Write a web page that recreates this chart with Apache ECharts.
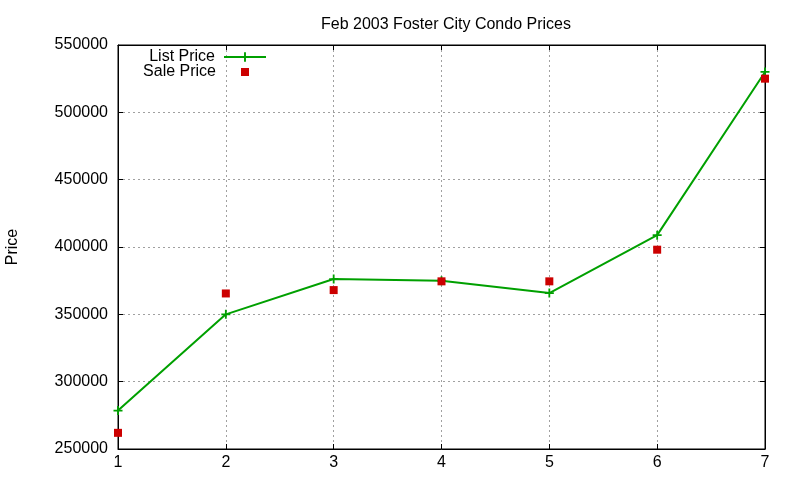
<!DOCTYPE html>
<html>
<head>
<meta charset="utf-8">
<script src="https://cdn.jsdelivr.net/npm/echarts@6/dist/echarts.min.js"></script>
<style>html,body{margin:0;padding:0;background:#fff}#c{width:800px;height:480px}</style>
</head>
<body>
<div id="c"></div>
<script>
const titleText = 'Feb 2003 Foster City Condo Prices';
const xValues = [1, 2, 3, 4, 5, 6, 7];
const listPrice = [278500, 350000, 376200, 375000, 365800, 408800, 530000];
const salePrice = [262000, 365500, 368000, 374500, 374500, 398000, 525000];
const yTicks = { min: 250000, max: 550000, step: 50000 };

const font = 'Liberation Sans, Arial, sans-serif';
const plus = 'path://M4,0 H6 V4 H10 V6 H6 V10 H4 V6 H0 V4 H4 Z';
const green = '#00a000';
const red = '#cc0000';
const gridLine = { show: true, lineStyle: { color: '#a0a0a0', type: [2, 3], width: 1 } };

const chart = echarts.init(document.getElementById('c'), null, { renderer: 'canvas' });
chart.setOption({
  animation: false,
  backgroundColor: '#fff',
  title: {
    text: titleText, left: 441, top: 12, textAlign: 'center',
    textStyle: { fontFamily: font, fontSize: 16, fontWeight: 'normal', color: '#000' }
  },
  legend: [
    {
      data: [{ name: 'List Price' }], right: 533, top: 49, align: 'right', padding: 0,
      itemWidth: 42, itemHeight: 12, itemGap: 0,
      textStyle: { fontFamily: font, fontSize: 16, color: '#000', padding: [0, 4, 0, 0] }
    },
    {
      data: [{ name: 'Sale Price', icon: 'rect' }], right: 551, top: 64, align: 'right', padding: 0,
      itemWidth: 8, itemHeight: 8, itemGap: 0,
      textStyle: { fontFamily: font, fontSize: 16, color: '#000', padding: [0, 20, 0, 0] }
    }
  ],
  grid: { left: 118, right: 35, top: 45, bottom: 31, outerBoundsMode: 'none', containLabel: false,
    show: true, borderColor: '#000', borderWidth: 1, backgroundColor: 'transparent' },
  xAxis: [
    {
      type: 'value', min: 1, max: 7, interval: 1, position: 'bottom',
      axisLine: { show: true, lineStyle: { color: '#000', width: 1 } },
      axisTick: { show: true, inside: true, length: 5, lineStyle: { color: '#000' } },
      axisLabel: { color: '#000', fontFamily: font, fontSize: 16, margin: 6 },
      splitLine: gridLine
    },
    {
      type: 'value', min: 1, max: 7, interval: 1, position: 'top',
      axisLine: { show: true, lineStyle: { color: '#000', width: 1 } },
      axisTick: { show: true, inside: true, length: 5, lineStyle: { color: '#000' } },
      axisLabel: { show: false }, splitLine: { show: false }
    }
  ],
  yAxis: [
    {
      type: 'value', min: yTicks.min, max: yTicks.max, interval: yTicks.step, position: 'left',
      name: 'Price', nameLocation: 'middle', nameRotate: 90, nameGap: 97,
      nameTextStyle: { color: '#000', fontFamily: font, fontSize: 16 },
      axisLine: { show: true, lineStyle: { color: '#000', width: 1 } },
      axisTick: { show: true, inside: true, length: 5, lineStyle: { color: '#000' } },
      axisLabel: { color: '#000', fontFamily: font, fontSize: 16, margin: 10, formatter: v => String(v) },
      splitLine: gridLine
    },
    {
      type: 'value', min: yTicks.min, max: yTicks.max, interval: yTicks.step, position: 'right',
      axisLine: { show: true, lineStyle: { color: '#000', width: 1 } },
      axisTick: { show: true, inside: true, length: 5, lineStyle: { color: '#000' } },
      axisLabel: { show: false }, splitLine: { show: false }
    }
  ],
  series: [
    {
      name: 'List Price', type: 'line', xAxisIndex: 0, yAxisIndex: 0,
      data: xValues.map((x, i) => [x, listPrice[i]]),
      symbol: plus, symbolSize: 9, showSymbol: true,
      lineStyle: { color: green, width: 2 }, itemStyle: { color: green },
      z: 3
    },
    {
      name: 'Sale Price', type: 'scatter', xAxisIndex: 0, yAxisIndex: 0,
      data: xValues.map((x, i) => [x, salePrice[i]]),
      symbol: 'rect', symbolSize: 8, itemStyle: { color: red, opacity: 1 },
      z: 4
    }
  ]
});
</script>
</body>
</html>
